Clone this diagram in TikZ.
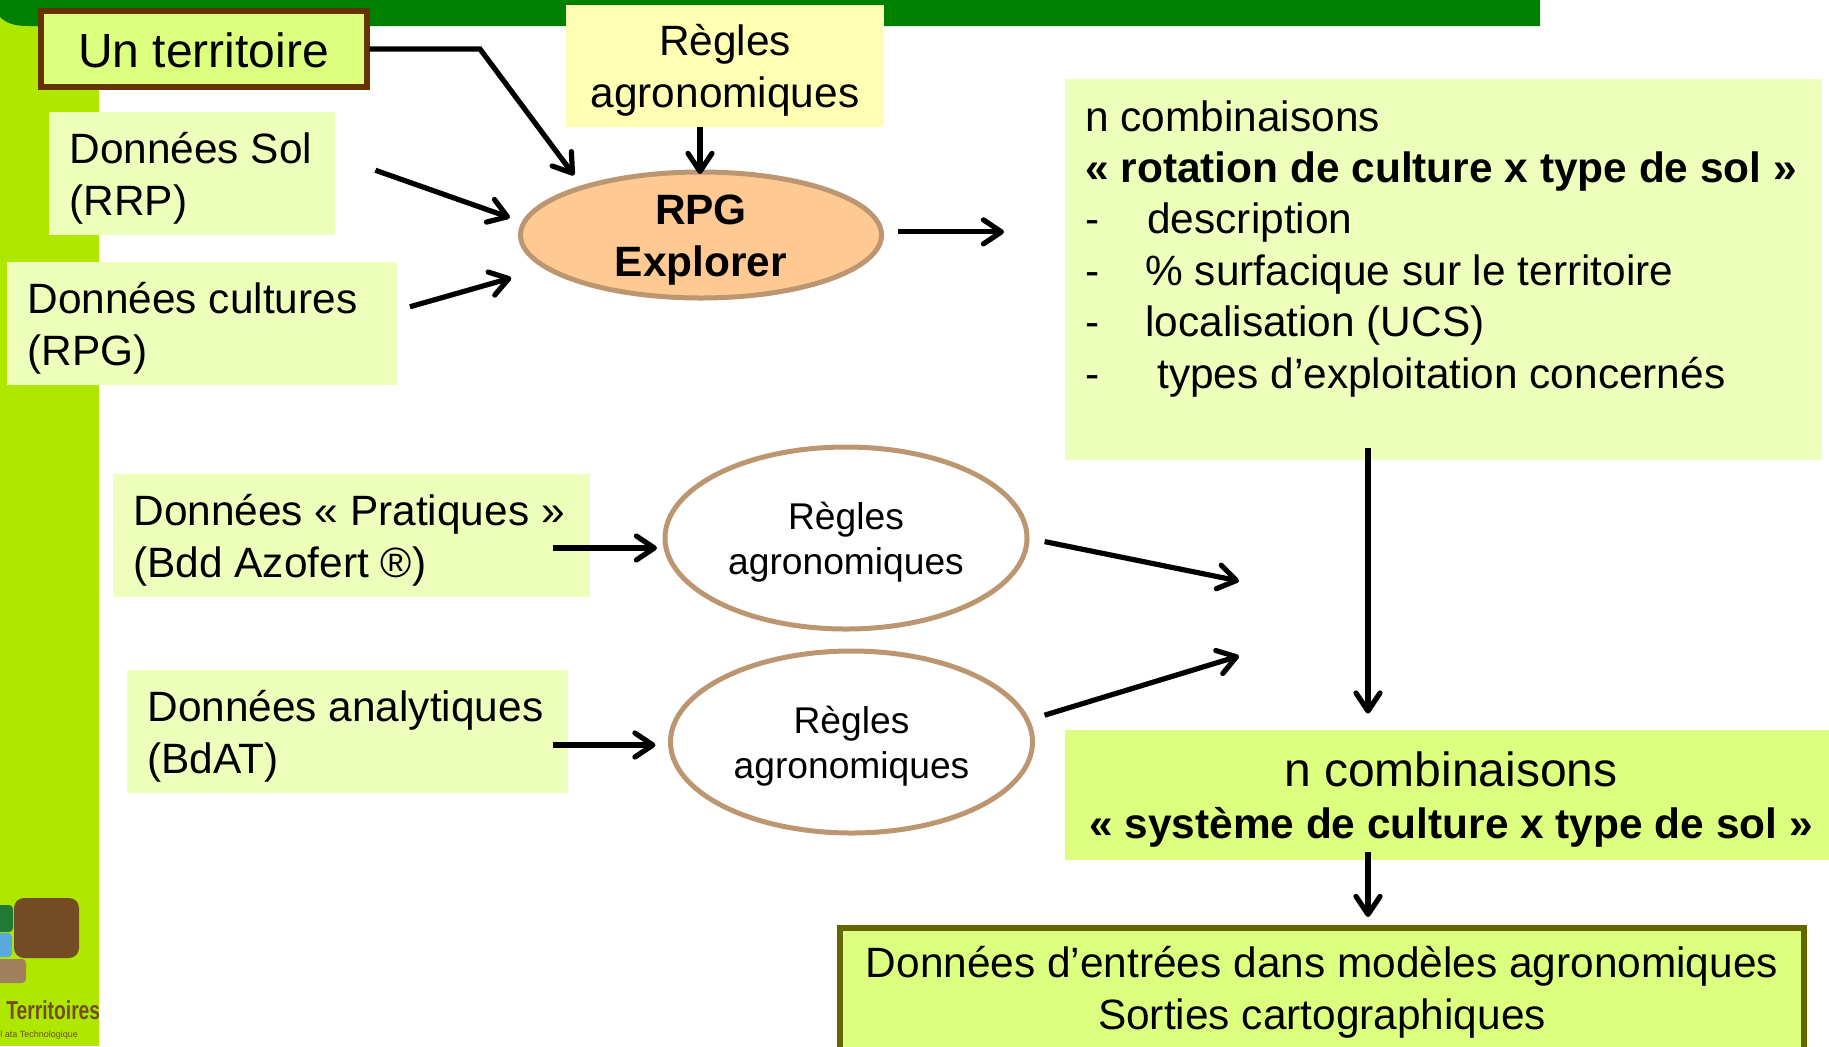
\documentclass[tikz,border=0pt]{standalone}
\usepackage{fontspec}
\setmainfont{Liberation Sans}
\usetikzlibrary{arrows.meta,shapes.geometric}
\definecolor{topgreen}{HTML}{008000}
\definecolor{sidegreen}{HTML}{AEE800}
\definecolor{palegreen}{HTML}{EEFFBB}
\definecolor{midgreen}{HTML}{DDFF7F}
\definecolor{paleyellow}{HTML}{FFFFB3}
\definecolor{peach}{HTML}{FFC993}
\definecolor{tan}{HTML}{BC9670}
\definecolor{logobrown}{HTML}{734C24}
\definecolor{logogreen}{HTML}{1F7A33}
\definecolor{logoblue}{HTML}{5BA8DC}
\definecolor{terbrown}{HTML}{663300}
\definecolor{outolive}{HTML}{666600}
\newcommand{\mainsize}{\fontsize{21.2}{25.7}\selectfont}
\tikzset{
  lowered/.style={execute at begin node={\rule{0pt}{#1}}},
  databox/.style={rectangle,fill=palegreen,align=flush left,inner xsep=10pt,inner ysep=0pt,minimum height=61.5pt,anchor=north west,lowered=20pt},
  outbox/.style={rectangle,align=flush center,inner sep=0pt},
  rule/.style={ellipse,draw=tan,line width=2.5pt,fill=white,align=flush center,inner sep=0pt,outer sep=0pt,minimum width=181pt,minimum height=91pt,text width=120pt,font=\fontsize{18.6}{22.7}\selectfont,lowered=18pt},
  flow/.style={line width=2.6pt,-{Straight Barb[length=9pt,width=12pt,line width=2.6pt,round]}},
}
\begin{document}
\begin{tikzpicture}[x=0.5pt,y=-0.5pt,font=\mainsize]
\useasboundingbox (0,0) rectangle (1829,1046);
% bandeaux
\fill[sidegreen] (0,0) rectangle (99,1046);
\fill[topgreen] (0,0) -- (1540,0) -- (1540,26) -- (28,26) .. controls (14,26) and (6,23) .. (0,17) -- cycle;
% logo
\fill[logobrown,rounded corners=5pt] (14,898) rectangle (79,958);
\fill[logogreen,rounded corners=2pt] (-8,905) rectangle (13,932);
\fill[logoblue,rounded corners=2pt] (-8,933) rectangle (12,957);
\fill[tan!85!black,rounded corners=2pt] (-8,959) rectangle (26,983);
\node[anchor=base west,inner sep=0pt,text=logobrown,font=\fontsize{13}{13}\selectfont\bfseries] (logotxt) at (6,1019) {\scalebox{0.74}[1]{Territoires}};
\node[anchor=base west,inner sep=0pt,text=logobrown,font=\fontsize{4.5}{5}\selectfont] (logosub) at (0,1037) {l ata Technologique};
% entrees du haut
\node[outbox,fill=midgreen,draw=terbrown,line width=3pt,minimum width=163pt,minimum height=38pt,font=\fontsize{24}{28}\selectfont,lowered=18.5pt] (ter) at (203.5,49) {Un territoire};
\node[databox,text width=123pt] (sol) at (49,112) {Données Sol\\(RRP)};
\node[databox,text width=175pt] (cult) at (7,262) {Données cultures\\(RPG)};
\node[outbox,fill=paleyellow,minimum width=159pt,minimum height=61pt,text width=150pt,lowered=20pt] (regtop) at (725,66) {Règles\\agronomiques};
\node[ellipse,draw=tan,line width=2.5pt,fill=peach,inner sep=0pt,outer sep=0pt,minimum width=180.5pt,minimum height=63pt] (rpg) at (701,235) {};
\node[align=center,inner sep=0pt,font=\mainsize\bfseries] (rpgtxt) at (701,240) {RPG\\Explorer};
\node[rectangle,fill=palegreen,anchor=north west,align=flush left,inner xsep=10pt,inner ysep=0pt,minimum height=190.5pt,text width=358.5pt] (combi) at (1065,79) {n combinaisons\\
\mbox{\textbf{« rotation de culture x type de sol »}}\\
\makebox[31pt][l]{-}description\\
\makebox[30pt][l]{-}\% surfacique sur le territoire\\
\makebox[30pt][l]{-}localisation (UCS)\\
\makebox[36pt][l]{-}types d’exploitation concernés\\
~};
% regles
\node[databox,text width=218.5pt] (prat) at (113,474) {Données « Pratiques »\\(Bdd Azofert ®)};
\node[databox,text width=200.5pt] (ana) at (127,670) {Données analytiques\\(BdAT)};
\node[rule] (regA) at (846,538) {Règles\\agronomiques};
\node[rule] (regB) at (851.5,742) {Règles\\agronomiques};
% sorties
\node[outbox,fill=midgreen,minimum width=386pt,minimum height=65pt,text width=386pt,font=\fontsize{24}{26}\selectfont,lowered=22pt] (syst) at (1451,795) {n combinaisons\\{\mainsize\textbf{« système de culture x type de sol »}}};
\node[outbox,fill=midgreen,draw=outolive,line width=3pt,minimum width=481.7pt,minimum height=70pt,anchor=north] (out) at (1322,925) {};
\node[align=center,inner sep=0pt,font=\fontsize{21.2}{26.2}\selectfont] (outtxt) at (1322,992) {Données d’entrées dans modèles agronomiques\\Sorties cartographiques};
% points de passage
\coordinate (terbend) at (480,49);
\coordinate (joinA) at (1239,581);
\coordinate (joinB) at (1239,656);
\coordinate (pratrow) at (0,548);
\coordinate (anarow) at (0,745);
\coordinate (downx) at (1368,0);
\coordinate (rpgx) at (700,0);
% fleches
\draw[flow,shorten >=7.5pt] (ter.east) -- (terbend) -- (rpg.158);
\draw[flow,shorten <=21pt,shorten >=7.5pt] (sol.7) -- (rpg.176);
\draw[flow,shorten <=6.3pt,shorten >=18.5pt] (cult.4) -- (rpg.192);
\draw[flow,shorten >=-1pt] (rpgx |- regtop.south) -- (rpgx |- rpg.north);
\draw[flow,shorten <=8.5pt,shorten >=30.5pt] (rpg.1) -- (rpg.1 -| combi.west);
\draw[flow,shorten <=-19pt,shorten >=4pt] (prat.east |- pratrow) -- (regA.west |- pratrow);
\draw[flow,shorten <=-8pt,shorten >=7.5pt] (ana.east |- anarow) -- (regB.west |- anarow);
\draw[flow,shorten <=9pt] (regA.east) -- (joinA);
\draw[flow,shorten <=9pt] (regB.7) -- (joinB);
\draw[flow,shorten <=-6.5pt,shorten >=8pt] (downx |- combi.south) -- (downx |- syst.north);
\draw[flow,shorten <=-4pt,shorten >=4pt] (downx |- syst.south) -- (downx |- out.north);
\end{tikzpicture}
\end{document}
